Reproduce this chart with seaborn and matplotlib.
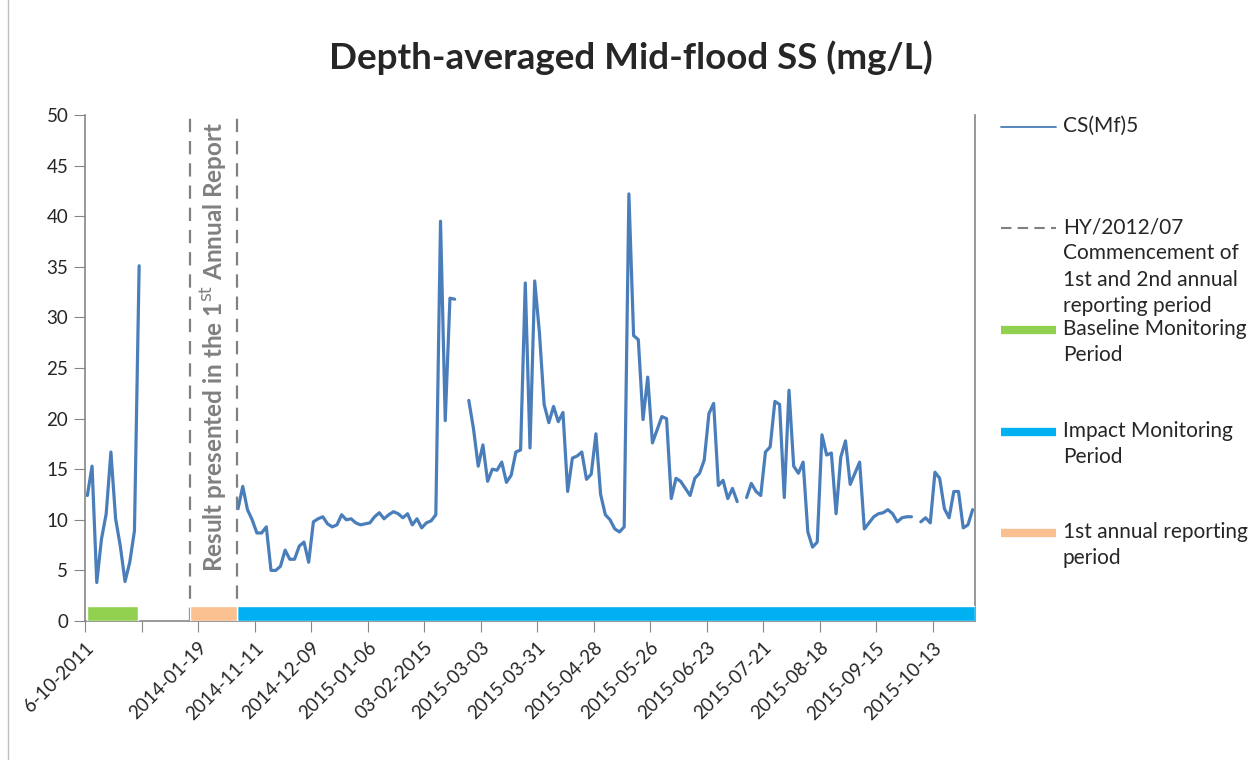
import numpy as np
import pandas as pd
import seaborn as sns
import matplotlib.pyplot as plt

nan = np.nan

# SS readings (mg/L) at CS(Mf)5, one value per survey (category axis)
baseline_ss = [12.4, 15.3, 3.8, 8.1, 10.6, 16.7, 10.1, 7.4, 3.9, 5.8, 8.9, 35.1]
n_gap = 20  # surveys not shown (reported in the 1st annual report)
impact_ss = [
    11.1, 13.3, 11.0, 10.0, 8.7, 8.7, 9.3, 5.0, 5.0, 5.4, 7.0, 6.1, 6.1, 7.4, 7.8, 5.8,
    9.8, 10.1, 10.3, 9.6, 9.3, 9.5, 10.5, 10.0, 10.1, 9.7, 9.5, 9.6, 9.7, 10.3, 10.7,
    10.1, 10.5, 10.8, 10.6, 10.2, 10.6, 9.5, 10.1, 9.2,
    9.7, 9.9, 10.5, 39.5, 19.8, 31.9, 31.8,
    nan, nan,
    21.8, 19.0, 15.3, 17.4, 13.8, 15.0, 14.9, 15.7, 13.7, 14.4, 16.7, 16.9, 33.4, 17.1,
    33.6, 28.5, 21.4, 19.6, 21.2, 19.7, 20.6, 12.8, 16.1, 16.3, 16.7, 14.0, 14.5, 18.5,
    12.5, 10.5,
    10.0, 9.1, 8.8, 9.3, 42.2, 28.2, 27.8, 19.9, 24.1, 17.6, 18.9, 20.2, 20.0, 12.1,
    14.1, 13.8, 13.1, 12.4, 14.1, 14.6, 15.9, 20.5, 21.5, 13.4, 13.9, 12.1, 13.1, 11.8,
    nan,
    12.2, 13.6, 12.8, 12.4, 16.7, 17.2, 21.7, 21.4, 12.2, 22.8,
    15.3, 14.6, 15.7, 8.8, 7.3, 7.8, 18.4, 16.4, 16.6, 10.6, 16.2, 17.8, 13.5, 14.6,
    15.7, 9.1, 9.7, 10.3, 10.6, 10.7, 11.0, 10.6, 9.8, 10.2, 10.3, 10.3,
    nan,
    9.8, 10.2, 9.7, 14.7, 14.1, 11.1, 10.2, 12.8, 12.8, 9.2, 9.5, 11.0,
]

tick_labels = ["6-10-2011", "", "2014-01-19", "2014-11-11", "2014-12-09", "2015-01-06",
               "03-02-2015", "2015-03-03", "2015-03-31", "2015-04-28", "2015-05-26",
               "2015-06-23", "2015-07-21", "2015-08-18", "2015-09-15", "2015-10-13"]

# monitoring periods (start, end) in survey index units
period_names = ["Baseline Monitoring\nPeriod", "Impact Monitoring\nPeriod",
                "1st annual reporting\nperiod"]
period_start = [-0.1, 31.8, 21.8]
period_end = [10.8, 188.5, 31.8]
period_colors = ["#92D050", "#00B0F0", "#FAC090"]
report_lines = [21.8, 31.8]

ss = baseline_ss + [nan] * n_gap + impact_ss
df = pd.DataFrame({"idx": np.arange(len(ss)), "ss": ss})
df["seg"] = df["ss"].isna().cumsum()
df = df.dropna()

sns.set_style("white")
plt.rcParams["font.family"] = ["Lato", "DejaVu Sans"]

fig = plt.figure(figsize=(12.57, 7.60), dpi=100)
ax = fig.add_axes([85 / 1257, 1 - 621 / 760, 890 / 1257, 506 / 760])

line_color = "#4A7EBB"
sns.lineplot(data=df, x="idx", y="ss", units="seg", estimator=None, color=line_color,
             linewidth=2.3, ax=ax, legend=False)

for s, e, c in zip(period_start, period_end, period_colors):
    ax.barh(y=0.75, width=e - s, left=s, height=1.5, color=c, zorder=3)

for xv in report_lines:
    ax.axvline(xv, color="#808080", lw=1.6, ls=(0, (6, 4)), zorder=2)

ax.text(np.mean(report_lines), 27.1, r"Result presented in the 1$^{\mathrm{st}}$ Annual Report",
        rotation=90, ha="center", va="center", color="#808080", fontsize=17.5,
        fontweight="bold")

ax.set_xlim(-0.5, len(ss) - 0.5)
ax.set_ylim(0, 50)
ax.set_yticks(np.arange(0, 51, 5))
ax.set_xticks(np.arange(len(tick_labels)) * 12 - 0.5)
ax.set_xticklabels(tick_labels, rotation=45, ha="right", rotation_mode="anchor",
                   fontsize=13.5)
ax.tick_params(axis="y", labelsize=13.5, length=8, color="#868686", direction="out",
               left=True, pad=4)
ax.tick_params(axis="x", length=8, color="#868686", direction="out", bottom=True, pad=5)
ax.set_xlabel("")
ax.set_ylabel("")
for side in ["left", "bottom", "right"]:
    ax.spines[side].set_color("#868686")
    ax.spines[side].set_linewidth(1.2)
ax.spines["top"].set_visible(False)

fig.text(0.502, 0.924, "Depth-averaged Mid-flood SS (mg/L)", ha="center", va="center",
         fontsize=26.5, fontweight="bold")

# legend drawn at the right, in pixel coordinates
leg = fig.add_axes([0, 0, 1, 1], zorder=-1)
leg.set_xlim(0, 1257)
leg.set_ylim(760, 0)
leg.axis("off")
leg_labels = ["CS(Mf)5",
              "HY/2012/07\nCommencement of\n1st and 2nd annual\nreporting period"] + period_names
leg_y = [127, 228, 330, 432, 533]
leg_styles = [dict(color=line_color, lw=1.3),
              dict(color="#808080", lw=1.5, ls=(0, (5, 3)))] + \
             [dict(color=c, lw=6, solid_capstyle="butt") for c in period_colors]
for lab, y, st in zip(leg_labels, leg_y, leg_styles):
    leg.plot([1001, 1056], [y, y], **st)
    leg.text(1063, y - 11, lab, ha="left", va="top", fontsize=15, linespacing=1.4)

# chart area border
leg.plot([8, 8], [0, 760], color="#bfbfbf", lw=1)

fig.savefig("out.png", dpi=100)
